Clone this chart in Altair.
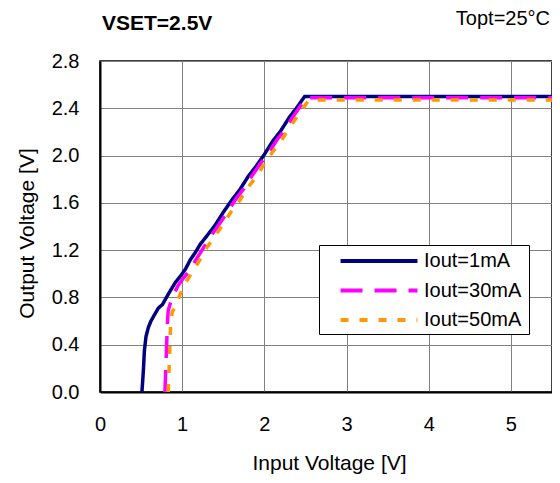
import altair as alt
import pandas as pd

series_names = ["Iout=1mA", "Iout=30mA", "Iout=50mA"]
series_colors = ["#000080", "#FF00FF", "#FF9900"]
series_dashes = [[1, 0], [22, 12], [8, 11]]

vin_1mA = [0.51, 0.52, 0.53, 0.54, 0.56, 0.59, 0.62, 0.66, 0.71, 0.76, 0.80, 0.85, 0.92, 0.98,
           1.04, 1.10, 1.16, 1.22, 1.30, 1.40, 1.50, 1.60, 1.70, 1.80, 1.90, 2.00, 2.10, 2.20,
           2.30, 2.40, 2.49, 3.00, 4.00, 5.00, 5.50]
vout_1mA = [0.00, 0.10, 0.21, 0.35, 0.47, 0.55, 0.60, 0.65, 0.71, 0.74, 0.79, 0.85, 0.93, 0.98,
            1.04, 1.12, 1.18, 1.25, 1.32, 1.41, 1.52, 1.62, 1.71, 1.82, 1.91, 2.01, 2.12, 2.21,
            2.32, 2.41, 2.50, 2.50, 2.50, 2.50, 2.50]

vin_30mA = [0.79, 0.80, 0.81, 0.82, 0.83, 0.86, 0.90, 0.95, 1.00, 1.07, 1.15, 1.25, 1.35, 1.45,
            1.55, 1.65, 1.75, 1.85, 1.95, 2.05, 2.15, 2.25, 2.35, 2.45, 2.51, 3.00, 4.00, 5.00, 5.50]
vout_30mA = [0.00, 0.18, 0.38, 0.58, 0.69, 0.76, 0.83, 0.90, 0.95, 1.01, 1.10, 1.21, 1.32, 1.42,
             1.52, 1.63, 1.72, 1.83, 1.93, 2.02, 2.13, 2.22, 2.33, 2.43, 2.49, 2.49, 2.49, 2.49, 2.49]

vin_50mA = [0.83, 0.84, 0.85, 0.86, 0.88, 0.92, 0.96, 1.02, 1.11, 1.20, 1.30, 1.40, 1.50, 1.60,
            1.70, 1.80, 1.90, 2.00, 2.10, 2.20, 2.30, 2.40, 2.50, 2.54, 3.00, 4.00, 5.00, 5.50]
vout_50mA = [0.00, 0.18, 0.38, 0.58, 0.68, 0.72, 0.80, 0.90, 1.00, 1.10, 1.22, 1.32, 1.42, 1.53,
             1.62, 1.73, 1.82, 1.93, 2.03, 2.12, 2.23, 2.33, 2.43, 2.47, 2.47, 2.47, 2.47, 2.47]

x_ticks = [0, 1, 2, 3, 4, 5]
y_ticks = [0.0, 0.4, 0.8, 1.2, 1.6, 2.0, 2.4, 2.8]

chart_title = "VSET=2.5V"
cond_text = "Topt=25°C"
x_title = "Input Voltage [V]"
y_title = "Output Voltage [V]"

rows = []
for name, xs, ys in zip(series_names, [vin_1mA, vin_30mA, vin_50mA],
                        [vout_1mA, vout_30mA, vout_50mA]):
    for i, (a, b) in enumerate(zip(xs, ys)):
        rows.append({"series": name, "vin": a, "vout": b, "idx": i})
df = pd.DataFrame(rows)

FONT = "Liberation Sans"

leg = alt.Legend(
    title="\u00a0", titleOrient="right", titleFontSize=20, titlePadding=4,
    orient="none", legendX=219, legendY=184,
    symbolType="M-4,0H4", symbolSize=370, symbolStrokeWidth=4,
    symbolOffset=44, labelOffset=33, rowPadding=7.5, padding=4,
    labelFont=FONT, labelFontSize=20, labelColor="black",
    strokeColor="black", fillColor="white",
)

lines = alt.Chart(df).mark_line(strokeWidth=3.5, clip=True).encode(
    x=alt.X("vin:Q", scale=alt.Scale(domain=[0, 5.5], nice=False, zero=False),
            axis=alt.Axis(values=x_ticks, format="d", title=x_title, labelPadding=22,
                          labelFlush=False,
                          titleBaseline="alphabetic", titleX=229, titleY=77)),
    y=alt.Y("vout:Q", scale=alt.Scale(domain=[0, 2.8], nice=False),
            axis=alt.Axis(values=y_ticks, format=".1f", title=y_title, labelPadding=21,
                          titleAngle=270, titleBaseline="alphabetic", titleX=-67, titleY=172)),
    color=alt.Color("series:N", scale=alt.Scale(domain=series_names, range=series_colors), legend=leg),
    strokeDash=alt.StrokeDash("series:N", scale=alt.Scale(domain=series_names, range=series_dashes), legend=leg),
    order="idx:Q",
)

t1 = alt.Chart(pd.DataFrame({"t": [chart_title]})).mark_text(
    align="left", baseline="alphabetic", fontSize=21, fontWeight="bold", font=FONT, color="black"
).encode(text="t:N", x=alt.value(2), y=alt.value(-31))

t2 = alt.Chart(pd.DataFrame({"t": [cond_text]})).mark_text(
    align="right", baseline="alphabetic", fontSize=20, font=FONT, color="black"
).encode(text="t:N", x=alt.value(450), y=alt.value(-36))

chart = alt.layer(lines, t1, t2).properties(
    width=452, height=331,
    autosize=alt.AutoSizeParams(type="none"),
    padding={"left": 92, "top": 53, "right": 0, "bottom": 82},
).configure_view(stroke="black", strokeWidth=1.5).configure_axis(
    grid=True, gridColor="#808080", gridWidth=1, domainColor="black", domainWidth=2,
    ticks=False, labelFont=FONT, labelFontSize=20, labelColor="black",
    titleFont=FONT, titleFontSize=21, titleFontWeight="normal", titleColor="black",
)

chart.save("out.html", embed_options={"renderer": "svg", "actions": False})
